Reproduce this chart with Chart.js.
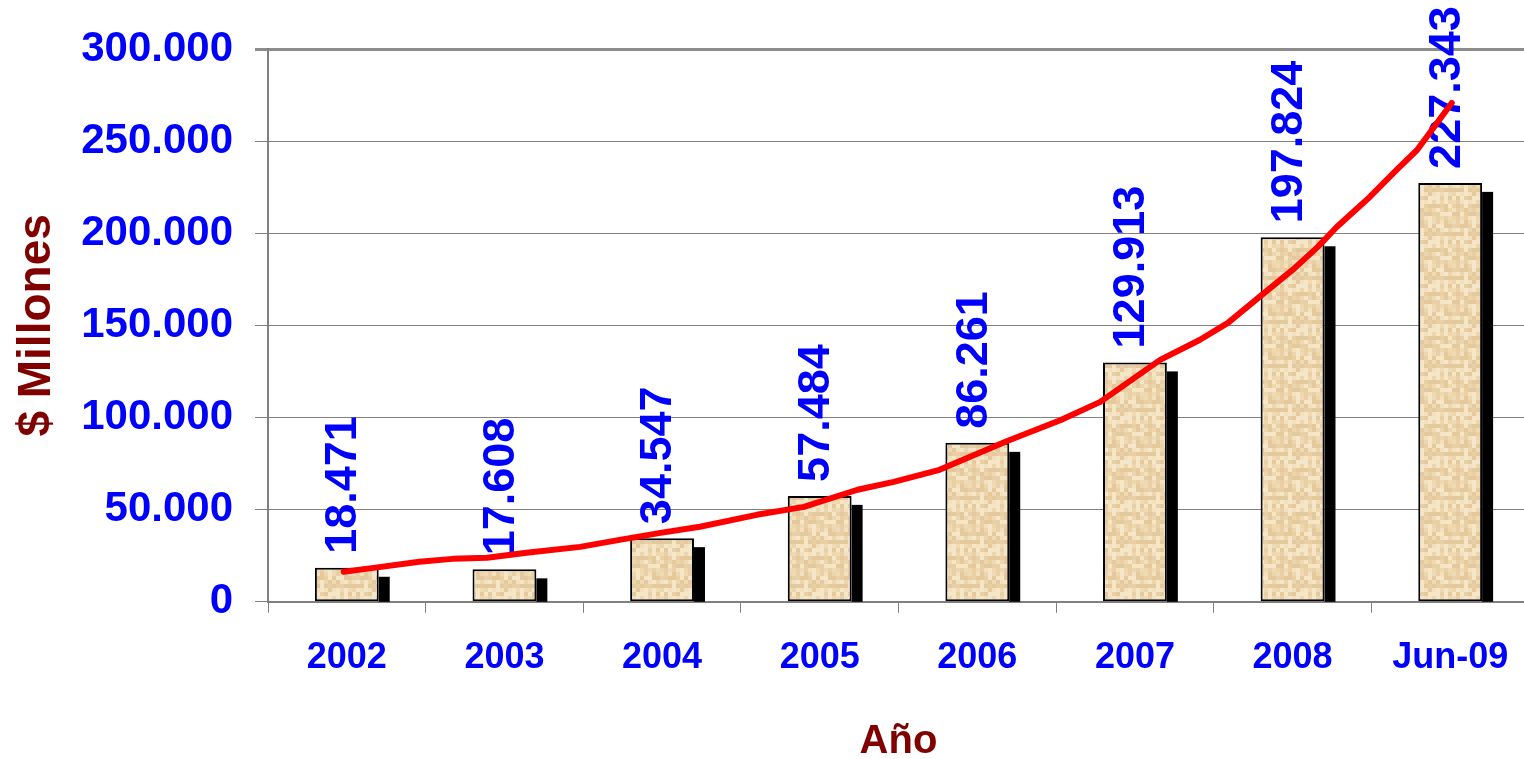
<!DOCTYPE html>
<html>
<head>
<meta charset="utf-8">
<script src="https://cdn.jsdelivr.net/npm/chart.js@4.4.1/dist/chart.umd.min.js"></script>
<style>
  html, body { margin: 0; padding: 0; background: #fff; overflow: hidden; }
  #wrap { width: 1534px; height: 759px; }
</style>
</head>
<body>
<div id="wrap"><canvas id="grafico" width="1534" height="759"></canvas></div>
<script>
// --- datos ---
const categorias = ["2002", "2003", "2004", "2005", "2006", "2007", "2008", "Jun-09"];
const valores = [18471, 17608, 34547, 57484, 86261, 129913, 197824, 227343];
// linea de tendencia (posicion en unidades de categoria, valor)
const tendenciaX = [-0.02, 0.17, 0.46, 0.67, 0.89, 1.14, 1.48, 1.73, 1.99, 2.24, 2.60, 2.90, 3.24, 3.47, 3.76, 4.19, 4.53, 4.78, 5.16, 5.41, 5.59, 5.79, 6.00, 6.16, 6.28, 6.49, 6.66, 6.79, 7.01];
const tendenciaY = [16300, 18400, 21700, 23300, 23900, 26600, 29800, 33600, 37400, 40700, 47200, 51500, 60800, 65100, 71600, 87300, 98700, 108500, 131300, 142100, 151400, 165500, 180100, 192600, 203400, 219700, 234400, 245200, 270700];
const ticksY = [0, 50000, 100000, 150000, 200000, 250000, 300000];

const fuente = '"Liberation Sans", Arial, sans-serif';
const azul = "#0000FF";
const granate = "#800000";

function formatoMiles(v) {
  return String(Math.round(v)).replace(/\B(?=(\d{3})+(?!\d))/g, ".");
}

// textura beige de las barras (patron fijo, sin azar)
function crearTextura() {
  const c = document.createElement("canvas");
  c.width = 44; c.height = 44;
  const g = c.getContext("2d");
  const tonos = ["#EFDAB4", "#E8CFA5", "#F2E0BF", "#E3C99C", "#EDD5AC", "#F5E6C8"];
  for (let i = 0; i < 11; i++) {
    for (let j = 0; j < 11; j++) {
      const k = ((i * 73 + j * 151) ^ (i * j * 17)) % tonos.length;
      g.fillStyle = tonos[k];
      g.fillRect(i * 4, j * 4, 4, 4);
    }
  }
  return g.createPattern(c, "repeat");
}

// sombra negra + etiquetas giradas
const pluginBarras = {
  id: "pluginBarras",
  beforeDatasetDraw(chart, args) {
    if (args.index !== 0) return;
    const ctx = chart.ctx;
    const base = chart.scales.y.getPixelForValue(0);
    ctx.save();
    ctx.fillStyle = "#000";
    chart.getDatasetMeta(0).data.forEach((bar) => {
      const der = bar.x + bar.width / 2;
      ctx.fillRect(der, bar.y + 9, 11, base - bar.y - 9);
    });
    ctx.restore();
  },
  afterDatasetDraw(chart, args) {
    if (args.index !== 0) return;
    const ctx = chart.ctx;
    ctx.save();
    ctx.fillStyle = azul;
    ctx.font = "bold 45px " + fuente;
    ctx.textAlign = "left";
    ctx.textBaseline = "middle";
    chart.getDatasetMeta(0).data.forEach((bar, i) => {
      ctx.save();
      ctx.translate(bar.x - 3, bar.y - 14);
      ctx.rotate(-Math.PI / 2);
      ctx.fillText(formatoMiles(valores[i]), 0, 0);
      ctx.restore();
    });
    ctx.restore();
  },
};

const ctx = document.getElementById("grafico").getContext("2d");

new Chart(ctx, {
  type: "bar",
  data: {
    labels: categorias,
    datasets: [
      {
        type: "bar",
        data: valores,
        backgroundColor: crearTextura(),
        borderColor: "#000",
        borderWidth: 2,
        borderSkipped: false,
        grouped: false,
        barPercentage: 0.405,
        categoryPercentage: 1,
        order: 2,
      },
      {
        type: "line",
        xAxisID: "x2",
        data: tendenciaX.map((x, i) => ({ x, y: tendenciaY[i] })),
        borderColor: "#FF0000",
        borderWidth: 6,
        pointRadius: 0,
        tension: 0,
        borderCapStyle: "round",
        borderJoinStyle: "round",
        order: 1,
      },
    ],
  },
  options: {
    responsive: false,
    animation: false,
    devicePixelRatio: 1,
    layout: { padding: { top: 49, right: 5, left: 0, bottom: 0 } },
    plugins: { legend: { display: false }, tooltip: { enabled: false } },
    scales: {
      x: {
        grid: { drawOnChartArea: false, drawTicks: true, tickLength: 11, color: "#808080", lineWidth: 1 },
        border: { display: true, color: "#808080", width: 2 },
        ticks: { color: azul, font: { family: fuente, size: 36, weight: "bold" }, padding: 24, maxRotation: 0 },
        title: {
          display: true,
          text: "Año",
          color: granate,
          font: { family: fuente, size: 40, weight: "bold", lineHeight: 0.85 },
          padding: { top: 21, bottom: 0 },
        },
      },
      x2: {
        type: "linear",
        display: false,
        offset: false,
        min: -0.5,
        max: 7.5,
      },
      y: {
        min: 0,
        max: 300000,
        afterBuildTicks: (scale) => { scale.ticks = ticksY.map((v) => ({ value: v })); },
        afterFit: (scale) => { scale.width = 268; },
        grid: {
          color: (c) => (c.tick && c.tick.value === 300000 ? "#8c8c8c" : "#808080"),
          lineWidth: (c) => (c.tick && c.tick.value === 300000 ? 3 : 1),
          tickLength: 13,
        },
        border: { display: true, color: "#808080", width: 2 },
        ticks: {
          color: azul,
          font: { family: fuente, size: 42, weight: "bold" },
          padding: 22,
          callback: (v) => formatoMiles(v),
        },
        title: {
          display: true,
          text: "$ Millones",
          color: granate,
          font: { family: fuente, size: 46, weight: "bold" },
          padding: { top: 10, bottom: 0 },
        },
      },
    },
  },
  plugins: [pluginBarras],
});
</script>
</body>
</html>
